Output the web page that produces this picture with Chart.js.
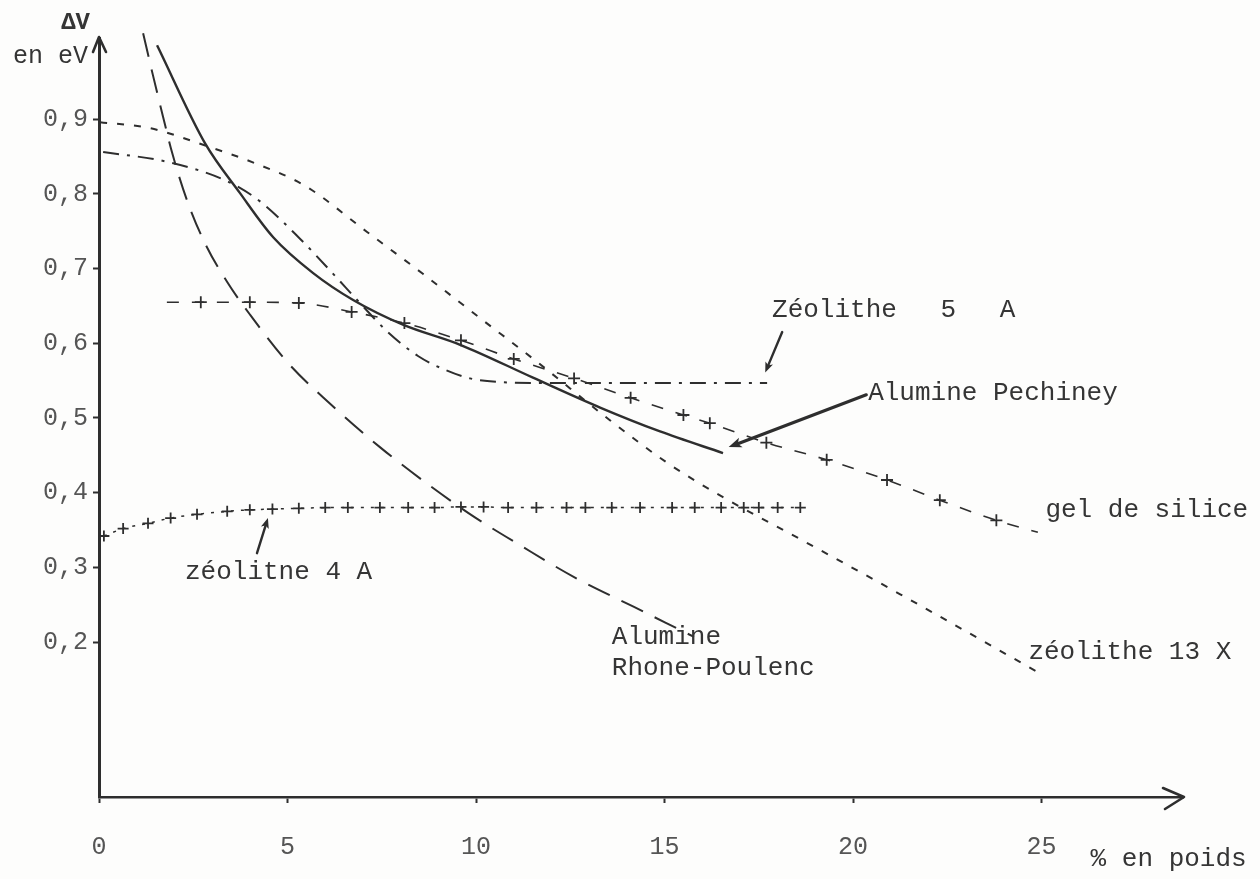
<!DOCTYPE html>
<html>
<head>
<meta charset="utf-8">
<script src="https://cdn.jsdelivr.net/npm/chart.js@4.4.1/dist/chart.umd.min.js"></script>
<style>
  html, body { margin: 0; padding: 0; background: #fdfdfc; }
  canvas { display: block; }
</style>
</head>
<body>
<canvas id="chart" width="1260" height="879"></canvas>
<script>
// ΔV (eV) as a function of water content (% en poids) for six adsorbents

const pechineyX = [1.54, 2.81, 3.74, 4.62, 5.68, 6.74, 8.06, 9.58, 11.51, 13.29, 14.88, 16.55];
const pechineyY = [0.999, 0.868, 0.801, 0.742, 0.694, 0.658, 0.625, 0.598, 0.554, 0.514, 0.482, 0.453];

const rhoneX = [1.17, 1.43, 1.70, 1.94, 2.33, 2.81, 3.40, 4.01, 4.99, 6.13, 7.45, 8.81, 9.97, 11.19, 12.60, 14.19, 15.78];
const rhoneY = [1.015, 0.959, 0.903, 0.855, 0.792, 0.734, 0.682, 0.638, 0.575, 0.519, 0.461, 0.408, 0.367, 0.329, 0.287, 0.247, 0.207];

const z13xX = [0.03, 1.35, 2.86, 4.14, 5.46, 7.11, 8.59, 10.10, 11.62, 13.55, 15.07, 16.55, 18.59, 21.25, 24.96];
const z13xY = [0.896, 0.888, 0.864, 0.841, 0.811, 0.749, 0.693, 0.634, 0.575, 0.497, 0.440, 0.394, 0.338, 0.264, 0.158];

const z5aX = [0.11, 1.80, 3.40, 4.27, 5.33, 6.21, 6.92, 7.64, 8.46, 9.20, 9.84, 10.64, 11.51, 14.62, 17.72];
const z5aY = [0.856, 0.843, 0.817, 0.790, 0.740, 0.693, 0.654, 0.616, 0.583, 0.564, 0.553, 0.548, 0.547, 0.547, 0.547];

const gelX = [1.8, 2.7, 4.0, 5.3, 6.7, 8.1, 9.6, 11.0, 12.6, 14.1, 15.5, 16.2, 17.7, 19.3, 20.9, 22.3, 23.8, 24.9];
const gelY = [0.655, 0.655, 0.655, 0.654, 0.642, 0.627, 0.604, 0.579, 0.553, 0.527, 0.504, 0.493, 0.467, 0.444, 0.417, 0.39, 0.363, 0.347];

const z4aX = [0.13, 0.64, 1.3, 1.9, 2.6, 3.4, 4.0, 4.6, 5.3, 6.0, 6.6, 7.45, 8.2, 8.9, 9.6, 10.2, 10.85, 11.6, 12.4, 12.9, 13.6, 14.35, 15.2, 15.8, 16.5, 17.1, 17.5, 18.0, 18.6];
const z4aY = [0.342, 0.352, 0.359, 0.366, 0.371, 0.375, 0.377, 0.378, 0.379, 0.38, 0.38, 0.38, 0.38, 0.38, 0.381, 0.381, 0.38, 0.38, 0.38, 0.38, 0.38, 0.38, 0.38, 0.38, 0.38, 0.38, 0.38, 0.38, 0.38];

const xTicks = [0, 5, 10, 15, 20, 25];
const yTicks = [0.2, 0.3, 0.4, 0.5, 0.6, 0.7, 0.8, 0.9];

const X_MIN = 0, X_MAX = 28.75;
const Y_MIN = -0.0074, Y_MAX = 1.0087;

const INK = '#2e2e2e';
const TEXT = '#353535';
const MONO = '"Liberation Mono", "DejaVu Sans Mono", monospace';

const pts = (xs, ys) => xs.map((x, i) => ({ x, y: ys[i] }));

// cross markers everywhere except the open ends of the silica-gel line
const gelMarkers = gelX.map((_, i) => (i === 0 || i === gelX.length - 1) ? 0 : 6);

const datasets = [
  {
    label: 'Alumine Pechiney',
    data: pts(pechineyX, pechineyY),
    borderColor: INK, borderWidth: 2.4,
    pointRadius: 0, cubicInterpolationMode: 'monotone'
  },
  {
    label: 'Alumine Rhone-Poulenc',
    data: pts(rhoneX, rhoneY),
    borderColor: INK, borderWidth: 2, borderDash: [24, 13],
    pointRadius: 0, cubicInterpolationMode: 'monotone', clip: false
  },
  {
    label: 'zéolithe 13 X',
    data: pts(z13xX, z13xY),
    borderColor: INK, borderWidth: 2, borderDash: [7, 10],
    pointRadius: 0, cubicInterpolationMode: 'monotone'
  },
  {
    label: 'Zéolithe 5 A',
    data: pts(z5aX, z5aY),
    borderColor: INK, borderWidth: 2, borderDash: [16, 8, 3, 8],
    pointRadius: 0, cubicInterpolationMode: 'monotone'
  },
  {
    label: 'gel de silice',
    data: pts(gelX, gelY),
    borderColor: INK, borderWidth: 1.6, borderDash: [12, 13],
    pointStyle: 'cross', pointRadius: gelMarkers, pointBorderWidth: 1.8,
    pointBorderColor: INK, cubicInterpolationMode: 'monotone'
  },
  {
    label: 'zéolitne 4 A',
    data: pts(z4aX, z4aY),
    borderColor: INK, borderWidth: 1.5, borderDash: [3, 7],
    pointStyle: 'cross', pointRadius: 5.5, pointBorderWidth: 1.8,
    pointBorderColor: INK, cubicInterpolationMode: 'monotone'
  }
];

// Text labels and pointer arrows, placed in data coordinates
const notes = [
  { text: 'Zéolithe 5 A',     x: 17.85, y: 0.645, wordGap: 28 },
  { text: 'Alumine Pechiney', x: 20.4,  y: 0.5335 },
  { text: 'gel de silice',    x: 25.1,  y: 0.377 },
  { text: 'zéolithe 13 X',    x: 24.65, y: 0.187 },
  { text: 'Alumine',          x: 13.6,  y: 0.207 },
  { text: 'Rhone-Poulenc',    x: 13.6,  y: 0.165 },
  { text: 'zéolitne 4 A',     x: 2.28,  y: 0.294 },
  { text: '% en poids',       x: 26.3,  y: -0.091 }
];
const pointers = [
  { from: [18.12, 0.615], to: [17.67, 0.561], width: 2.4, head: 11 },
  { from: [20.35, 0.531], to: [16.7, 0.461], width: 3.2, head: 14 },
  { from: [4.19, 0.319], to: [4.48, 0.366], width: 2.4, head: 11 }
];

function arrow(ctx, x1, y1, x2, y2, width, head) {
  const a = Math.atan2(y2 - y1, x2 - x1);
  ctx.save();
  ctx.strokeStyle = INK;
  ctx.fillStyle = INK;
  ctx.lineWidth = width;
  ctx.lineCap = 'round';
  ctx.beginPath();
  ctx.moveTo(x1, y1);
  ctx.lineTo(x2 - Math.cos(a) * head * 0.5, y2 - Math.sin(a) * head * 0.5);
  ctx.stroke();
  ctx.beginPath();
  ctx.moveTo(x2, y2);
  ctx.lineTo(x2 - head * Math.cos(a - 0.38), y2 - head * Math.sin(a - 0.38));
  ctx.lineTo(x2 - head * 0.7 * Math.cos(a), y2 - head * 0.7 * Math.sin(a));
  ctx.lineTo(x2 - head * Math.cos(a + 0.38), y2 - head * Math.sin(a + 0.38));
  ctx.closePath();
  ctx.fill();
  ctx.restore();
}

const decorations = {
  id: 'decorations',
  afterDraw(chart) {
    const { ctx, chartArea: area, scales: { x, y } } = chart;
    ctx.save();

    // axis arrowheads
    ctx.strokeStyle = INK;
    ctx.lineWidth = 2.6;
    ctx.lineCap = 'round';
    ctx.lineJoin = 'round';
    const ax = area.left;
    ctx.beginPath();
    ctx.moveTo(ax - 6, area.top + 14);
    ctx.lineTo(ax, area.top - 1);
    ctx.lineTo(ax + 7, area.top + 14);
    ctx.stroke();
    const ay = area.bottom;
    ctx.beginPath();
    ctx.moveTo(area.right - 20, ay - 9);
    ctx.lineTo(area.right + 1, ay);
    ctx.lineTo(area.right - 18, ay + 12);
    ctx.stroke();

    // y axis title
    ctx.fillStyle = TEXT;
    ctx.textAlign = 'right';
    ctx.textBaseline = 'middle';
    ctx.font = 'bold 24px ' + MONO;
    ctx.fillText('ΔV', ax - 9, area.top - 15);
    ctx.font = '25px ' + MONO;
    ctx.fillText('en eV', ax - 11, area.top + 18);

    // curve labels
    ctx.textAlign = 'left';
    ctx.font = '26px ' + MONO;
    notes.forEach(n => {
      ctx.wordSpacing = (n.wordGap || 0) + 'px';
      ctx.fillText(n.text, x.getPixelForValue(n.x), y.getPixelForValue(n.y));
    });
    ctx.wordSpacing = '0px';

    pointers.forEach(p => {
      arrow(ctx,
        x.getPixelForValue(p.from[0]), y.getPixelForValue(p.from[1]),
        x.getPixelForValue(p.to[0]), y.getPixelForValue(p.to[1]),
        p.width, p.head);
    });
    ctx.restore();
  }
};

new Chart(document.getElementById('chart'), {
  type: 'line',
  data: { datasets },
  plugins: [decorations],
  options: {
    responsive: false,
    animation: false,
    devicePixelRatio: 1,
    layout: { padding: { top: 38, right: 77, bottom: 0, left: 0 } },
    plugins: { legend: { display: false }, tooltip: { enabled: false } },
    scales: {
      x: {
        type: 'linear',
        min: X_MIN, max: X_MAX,
        afterFit: s => { s.height = 82; },
        afterBuildTicks: s => { s.ticks = xTicks.map(v => ({ value: v })); },
        border: { display: true, color: INK, width: 2.6 },
        grid: { drawOnChartArea: false, drawTicks: true, tickLength: 6, tickColor: INK, tickWidth: 2 },
        ticks: {
          padding: 29,
          color: '#555',
          font: { family: MONO, size: 25 },
          maxRotation: 0,
          callback: v => String(v)
        }
      },
      y: {
        type: 'linear',
        min: Y_MIN, max: Y_MAX,
        afterFit: s => { s.width = 99; },
        afterBuildTicks: s => { s.ticks = yTicks.map(v => ({ value: v })); },
        border: { display: true, color: INK, width: 3 },
        grid: { drawOnChartArea: false, drawTicks: true, tickLength: 6, tickColor: INK, tickWidth: 2 },
        ticks: {
          padding: 5,
          color: '#555',
          font: { family: MONO, size: 25 },
          callback: v => v.toFixed(1).replace('.', ',')
        }
      }
    }
  }
});
</script>
</body>
</html>
